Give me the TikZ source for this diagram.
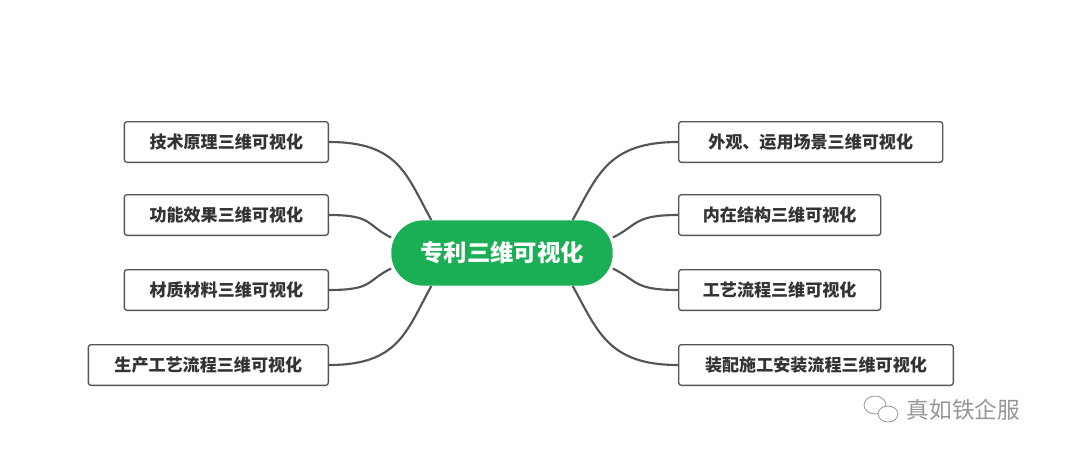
\documentclass[tikz,border=0pt]{standalone}
\usepackage{fontspec}
\setmainfont{Noto Sans CJK SC}
\usepackage{xcolor}
\definecolor{mapgreen}{RGB}{26,175,84}
\definecolor{linegray}{RGB}{85,85,85}
\definecolor{textdark}{RGB}{51,51,51}
\definecolor{markgray}{RGB}{150,150,150}
\usetikzlibrary{calc,positioning,backgrounds}

\begin{document}
\begin{tikzpicture}[x=0.75pt,y=-0.75pt,
    topic/.style={fill=mapgreen,text=white,rounded corners=24pt,minimum width=166pt,minimum height=49pt,font=\fontsize{17.5}{19}\selectfont\bfseries},
    leaf/.style={draw=linegray,line width=1pt,rounded corners=2pt,fill=white,text=textdark,minimum height=30.5pt,font=\fontsize{12.8}{14}\selectfont\bfseries},
    branch/.style={draw=linegray,line width=1.6pt}]
    % Frame
    \useasboundingbox (0,0) rectangle (1080,457);
    % Central topic
    \node[topic] (c) at (502,253) {专利三维可视化};
    % Left leaves
    \node[leaf,minimum width=153pt,anchor=east] (l1) at (329,142) {技术原理三维可视化};
    \node[leaf,minimum width=153pt,anchor=east] (l2) at (329,215) {功能效果三维可视化};
    \node[leaf,minimum width=153pt,anchor=east] (l3) at (329,290) {材质材料三维可视化};
    \node[leaf,minimum width=180pt,anchor=east] (l4) at (329,365) {生产工艺流程三维可视化};
    % Right leaves
    \node[leaf,minimum width=198pt,anchor=west] (r1) at (678,142) {外观、运用场景三维可视化};
    \node[leaf,minimum width=151.5pt,anchor=west] (r2) at (678,215) {内在结构三维可视化};
    \node[leaf,minimum width=151.5pt,anchor=west] (r3) at (678,290) {工艺流程三维可视化};
    \node[leaf,minimum width=206pt,anchor=west] (r4) at (678,365) {装配施工安装流程三维可视化};
    % Branches
    \begin{pgfonlayer}{background}
    \draw[branch] (l1.east) .. controls +(70,0) and +(-25,-45) .. (c.155);
    \draw[branch] (l2.east) .. controls +(45,0) and +(-25,-12) .. (c.172);
    \draw[branch] (l3.east) .. controls +(45,0) and +(-25,12) .. (c.188);
    \draw[branch] (l4.east) .. controls +(70,0) and +(-25,45) .. (c.205);
    \draw[branch] (r1.west) .. controls +(-70,0) and +(25,-45) .. (c.25);
    \draw[branch] (r2.west) .. controls +(-45,0) and +(25,-12) .. (c.8);
    \draw[branch] (r3.west) .. controls +(-45,0) and +(25,12) .. (c.-8);
    \draw[branch] (r4.west) .. controls +(-70,0) and +(25,45) .. (c.-25);
    \end{pgfonlayer}
    % Watermark
    \draw[markgray,line width=0.6pt] (875,405) ellipse (11 and 9);
    \draw[markgray,line width=0.6pt,fill=white] (888,414) ellipse (10 and 8);
    \node[text=markgray,font=\fontsize{17}{19}\selectfont,anchor=west] (wm) at (902,410) {真如铁企服};
\end{tikzpicture}
\end{document}
